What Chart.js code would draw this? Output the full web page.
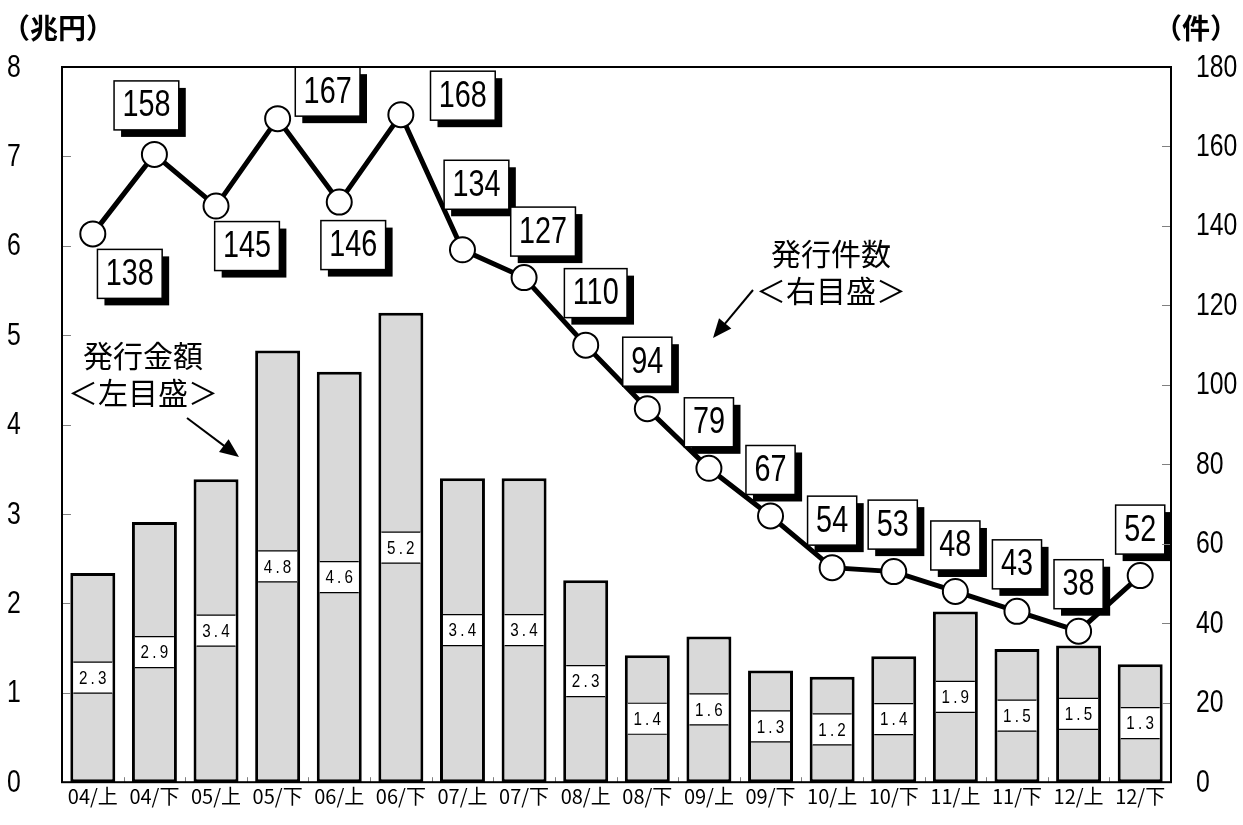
<!DOCTYPE html>
<html lang="ja">
<head>
<meta charset="utf-8">
<title>発行金額・発行件数</title>
<script src="https://cdn.jsdelivr.net/npm/chart.js@4"></script>
<style>
  html, body { margin: 0; padding: 0; background: #fff; }
  #wrap { width: 1243px; height: 825px; }
</style>
</head>
<body>
<div id="wrap"><canvas id="chart" width="1243" height="825"></canvas></div>
<script>
const categories = ["04/上", "04/下", "05/上", "05/下", "06/上", "06/下", "07/上", "07/下", "08/上",
  "08/下", "09/上", "09/下", "10/上", "10/下", "11/上", "11/下", "12/上", "12/下"];

// 発行金額（兆円） bar heights as drawn, and the printed labels
const amountValues = [2.34, 2.91, 3.39, 4.83, 4.59, 5.25, 3.40, 3.40, 2.26,
  1.42, 1.63, 1.25, 1.18, 1.41, 1.91, 1.49, 1.53, 1.32];
const amountLabels = ["2.3", "2.9", "3.4", "4.8", "4.6", "5.2", "3.4", "3.4", "2.3",
  "1.4", "1.6", "1.3", "1.2", "1.4", "1.9", "1.5", "1.5", "1.3"];

// 発行件数（件）
const countValues = [138, 158, 145, 167, 146, 168, 134, 127, 110, 94, 79, 67, 54, 53, 48, 43, 38, 52];

const leftAxisMax = 8;
const rightAxisMax = 180;

// where each count label box sits, relative to its point
const countLabelOffsets = [[37, 40], [-8, -49], [31, 40], [50, -27], [14, 43], [62, -19],
  [14, -65], [19, -46], [10, -52], [0, -47], [0, -46], [0, -46], [0, -47], [-1, -47],
  [0, -46], [0, -47], [0, -47], [0, -46]];

const SANS = '"Liberation Sans", Arial, sans-serif';
const CJK = '"Noto Sans CJK JP", "Noto Sans", sans-serif';
const SQUEEZE = 0.8;

const notes = [
  { lines: ["発行金額", "＜左目盛＞"], x: 143, y: 356, arrow: [187, 418, 239, 457] },
  { lines: ["発行件数", "＜右目盛＞"], x: 831, y: 254, arrow: [753, 290, 713, 338] }
];

// condensed text: Liberation Sans squeezed horizontally
function narrowText(ctx, txt, x, y, size, align, spacing) {
  ctx.save();
  ctx.translate(x, y);
  ctx.scale(SQUEEZE, 1);
  ctx.font = size + "px " + SANS;
  ctx.textAlign = align;
  ctx.textBaseline = "middle";
  ctx.letterSpacing = (spacing || 0) + "px";
  ctx.fillStyle = "#000";
  ctx.fillText(txt, 0, 0);
  ctx.restore();
}

function narrowWidth(ctx, txt, size) {
  ctx.save();
  ctx.font = size + "px " + SANS;
  const w = ctx.measureText(txt).width * SQUEEZE;
  ctx.restore();
  return w;
}

function drawArrow(ctx, x1, y1, x2, y2) {
  const ang = Math.atan2(y2 - y1, x2 - x1);
  const len = 19, half = 8;
  ctx.save();
  ctx.strokeStyle = "#000";
  ctx.fillStyle = "#000";
  ctx.lineWidth = 2;
  ctx.beginPath();
  ctx.moveTo(x1, y1);
  ctx.lineTo(x2 - Math.cos(ang) * len * 0.8, y2 - Math.sin(ang) * len * 0.8);
  ctx.stroke();
  ctx.beginPath();
  ctx.moveTo(x2, y2);
  ctx.lineTo(x2 - Math.cos(ang) * len - Math.sin(ang) * half, y2 - Math.sin(ang) * len + Math.cos(ang) * half);
  ctx.lineTo(x2 - Math.cos(ang) * len + Math.sin(ang) * half, y2 - Math.sin(ang) * len - Math.cos(ang) * half);
  ctx.closePath();
  ctx.fill();
  ctx.restore();
}

const decorPlugin = {
  id: "decor",
  afterDatasetDraw(chart, args) {
    if (args.index !== 0) return;
    // value boxes in the middle of each bar
    const ctx = chart.ctx;
    const meta = chart.getDatasetMeta(0);
    ctx.save();
    meta.data.forEach((bar, i) => {
      const w = bar.width - 6;
      const cy = (bar.y + bar.base) / 2;
      const h = 31;
      ctx.fillStyle = "#fff";
      ctx.fillRect(bar.x - w / 2, cy - h / 2, w, h);
      ctx.strokeStyle = "#000";
      ctx.lineWidth = 1.2;
      ctx.beginPath();
      ctx.moveTo(bar.x - w / 2, cy - h / 2);
      ctx.lineTo(bar.x + w / 2, cy - h / 2);
      ctx.moveTo(bar.x - w / 2, cy + h / 2);
      ctx.lineTo(bar.x + w / 2, cy + h / 2);
      ctx.stroke();
      narrowText(ctx, amountLabels[i], bar.x + 1.5, cy + 1, 19, "center", 4);
    });
    ctx.restore();
  },
  afterDatasetsDraw(chart) {
    const ctx = chart.ctx;
    const meta = chart.getDatasetMeta(1);
    ctx.save();
    meta.data.forEach((pt, i) => {
      const txt = String(countValues[i]);
      const w = narrowWidth(ctx, txt, 35) + 18;
      const h = 49;
      const cx = pt.x + countLabelOffsets[i][0];
      const cy = pt.y + countLabelOffsets[i][1];
      ctx.fillStyle = "#000";
      ctx.fillRect(cx - w / 2 + 7, cy - h / 2 + 7, w, h);
      ctx.fillStyle = "#fff";
      ctx.fillRect(cx - w / 2, cy - h / 2, w, h);
      ctx.strokeStyle = "#000";
      ctx.lineWidth = 1.5;
      ctx.strokeRect(cx - w / 2, cy - h / 2, w, h);
      narrowText(ctx, txt, cx, cy + 1, 36, "center", 0);
    });
    ctx.restore();
  },
  afterDraw(chart) {
    const ctx = chart.ctx;
    const a = chart.chartArea;
    const y = chart.scales.y, y1 = chart.scales.y1, x = chart.scales.x;
    ctx.save();
    // inner tick marks
    ctx.strokeStyle = "#808080";
    ctx.lineWidth = 1;
    ctx.beginPath();
    y.ticks.forEach(t => {
      const py = Math.round(y.getPixelForValue(t.value)) + 0.5;
      ctx.moveTo(a.left, py);
      ctx.lineTo(a.left + 9, py);
    });
    y1.ticks.forEach(t => {
      const py = Math.round(y1.getPixelForValue(t.value)) + 0.5;
      ctx.moveTo(a.right, py);
      ctx.lineTo(a.right - 9, py);
    });
    for (let i = 1; i < categories.length; i++) {
      const px = Math.round((x.getPixelForValue(i - 1) + x.getPixelForValue(i)) / 2) + 0.5;
      ctx.moveTo(px, a.bottom);
      ctx.lineTo(px, a.bottom - 5);
    }
    ctx.stroke();
    // frame
    ctx.strokeStyle = "#000";
    ctx.lineWidth = 2;
    ctx.strokeRect(a.left, a.top, a.right - a.left, a.bottom - a.top);
    // axis numbers, condensed like the original
    y.ticks.forEach(t => narrowText(ctx, String(t.value), 7, y.getPixelForValue(t.value) + 1, 31, "left", 0));
    y1.ticks.forEach(t => narrowText(ctx, String(t.value), 1196, y1.getPixelForValue(t.value) + 1, 31, "left", 0));
    // unit titles
    ctx.fillStyle = "#000";
    ctx.font = "bold 28px " + CJK;
    ctx.textAlign = "left";
    ctx.textBaseline = "middle";
    ctx.fillText("（兆円）", 2, 28);
    ctx.fillText("（件）", 1154, 28);
    // notes
    ctx.font = "30px " + CJK;
    ctx.textAlign = "center";
    notes.forEach(n => {
      n.lines.forEach((line, k) => ctx.fillText(line, n.x, n.y + k * 37));
      drawArrow(ctx, ...n.arrow);
    });
    ctx.restore();
  }
};

new Chart(document.getElementById("chart"), {
  data: {
    labels: categories,
    datasets: [
      {
        type: "bar",
        data: amountValues,
        yAxisID: "y",
        backgroundColor: "#d9d9d9",
        borderColor: "#000",
        borderWidth: 3,
        borderSkipped: false,
        barPercentage: 0.73,
        categoryPercentage: 1,
        order: 2
      },
      {
        type: "line",
        data: countValues,
        yAxisID: "y1",
        borderColor: "#000",
        borderWidth: 5,
        tension: 0,
        pointRadius: 12.5,
        pointBackgroundColor: "#fff",
        pointBorderColor: "#000",
        pointBorderWidth: 2,
        order: 1
      }
    ]
  },
  options: {
    responsive: false,
    animation: false,
    layout: { padding: { top: 67, left: 8, right: 0, bottom: 0 } },
    plugins: { legend: { display: false }, tooltip: { enabled: false } },
    scales: {
      x: {
        grid: { display: false, drawTicks: false },
        border: { display: false },
        ticks: { color: "#000", font: { family: CJK, size: 20 }, padding: 2, maxRotation: 0, autoSkip: false },
        afterFit: s => { s.height = 33; }
      },
      y: {
        position: "left",
        min: 0,
        max: leftAxisMax,
        grid: { display: false, drawTicks: false },
        border: { display: false },
        ticks: { stepSize: 1, color: "rgba(0,0,0,0)", font: { family: SANS, size: 28 }, crossAlign: "far", padding: 0 },
        afterFit: s => { s.width = 54; }
      },
      y1: {
        position: "right",
        min: 0,
        max: rightAxisMax,
        grid: { display: false, drawTicks: false },
        border: { display: false },
        ticks: { stepSize: 20, color: "rgba(0,0,0,0)", font: { family: SANS, size: 28 }, padding: 26 },
        afterFit: s => { s.width = 72; }
      }
    }
  },
  plugins: [decorPlugin]
});
</script>
</body>
</html>
